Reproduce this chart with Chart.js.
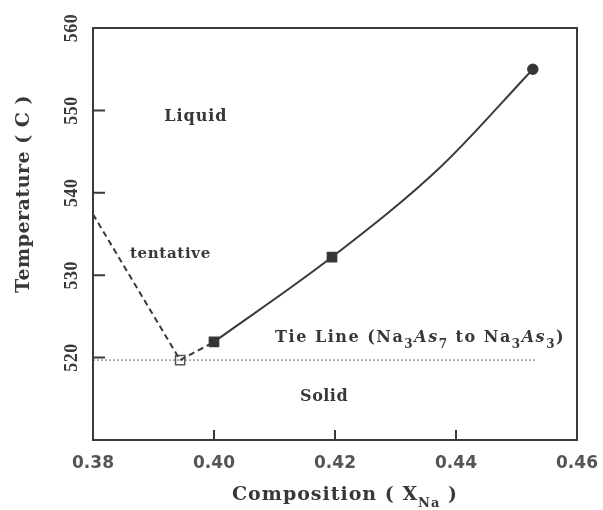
<!DOCTYPE html>
<html>
<head>
<meta charset="utf-8">
<script src="https://cdn.jsdelivr.net/npm/chart.js@4.4.1/dist/chart.umd.min.js"></script>
<style>
  html, body { margin: 0; padding: 0; background: #fff; }
  #wrap { width: 603px; height: 510px; }
</style>
</head>
<body>
<div id="wrap"><canvas id="phase" width="603" height="510"></canvas></div>
<script>
// values
const xTickLabels = ['0.38', '0.40', '0.42', '0.44', '0.46'];
const yTickLabels = [520, 530, 540, 550, 560];

// liquidus (solid curve)
const curveX = [0.400, 0.4195, 0.4374, 0.4527];
const curveY = [521.9, 532.2, 543.1, 555.0];

// tentative branch (dashed)
const tentX = [0.380, 0.3944, 0.400];
const tentY = [537.4, 519.7, 521.9];

// tie line (dotted)
const tieX = [0.380, 0.4534];
const tieY = [519.7, 519.7];

// markers
const filledX = [0.400, 0.4195];
const filledY = [521.9, 532.2];
const openX   = [0.3944];
const openY   = [519.7];
const endX    = [0.4527];
const endY    = [555.0];

const INK  = '#3a3a3a';
const TEXT = '#383838';
const SERIF = '"Liberation Serif", "Times New Roman", serif';
const WIDE  = '"DejaVu Serif", serif';

function pts(xs, ys) { return xs.map((x, i) => ({ x, y: ys[i] })); }

// draw text stretched (via letter spacing) to roughly the width seen in the scan
function spaced(ctx, parts, x, y, width, align) {
    let natural = 0, chars = 0;
    parts.forEach(p => {
        ctx.font = p.font;
        ctx.letterSpacing = '0px';
        natural += ctx.measureText(p.t).width;
        chars += p.t.length;
    });
    const ls = chars > 1 ? Math.max(0, (width - natural) / chars) : 0;
    const total = Math.max(width, natural);
    let cx = align === 'center' ? x - total / 2 : x;
    parts.forEach(p => {
        ctx.font = p.font;
        ctx.letterSpacing = ls + 'px';
        ctx.textAlign = 'left';
        ctx.fillText(p.t, cx, y + (p.dy || 0));
        cx += ctx.measureText(p.t).width;
    });
    ctx.letterSpacing = '0px';
}

const notes = [
    { x: 0.397,  y: 549.2, w: 63, parts: [{ t: 'Liquid', font: 'bold 16px ' + WIDE }] },
    { x: 0.3928, y: 532.6, w: 81, parts: [{ t: 'tentative', font: 'bold 15px ' + WIDE }] },
    { x: 0.4182, y: 515.2, w: 48, parts: [{ t: 'Solid', font: 'bold 16px ' + WIDE }] },
];

const frame = {
    id: 'frame',
    afterDraw(chart) {
        const { ctx, chartArea: a, scales: { x, y } } = chart;
        ctx.save();

        // box
        ctx.strokeStyle = INK;
        ctx.lineWidth = 2;
        ctx.strokeRect(a.left, a.top, a.right - a.left, a.bottom - a.top);

        // inward ticks
        ctx.beginPath();
        y.ticks.forEach(t => {
            if (t.value <= y.min || t.value >= y.max) return;
            const py = y.getPixelForValue(t.value);
            ctx.moveTo(a.left, py);
            ctx.lineTo(a.left + 12, py);
        });
        x.ticks.forEach(t => {
            if (t.value <= x.min + 1e-9 || t.value >= x.max - 1e-9) return;
            const px = x.getPixelForValue(t.value);
            ctx.moveTo(px, a.bottom);
            ctx.lineTo(px, a.bottom - 10);
        });
        ctx.stroke();

        ctx.fillStyle = TEXT;
        ctx.textBaseline = 'middle';

        // rotated y tick labels
        ctx.font = 'bold 18px ' + SERIF;
        yTickLabels.forEach(v => {
            ctx.save();
            ctx.translate(72, y.getPixelForValue(v));
            ctx.rotate(-Math.PI / 2);
            ctx.textAlign = 'center';
            ctx.letterSpacing = '0.5px';
            ctx.fillText(String(v), 0, 0);
            ctx.restore();
        });

        // region labels
        notes.forEach(n => {
            spaced(ctx, n.parts, x.getPixelForValue(n.x), y.getPixelForValue(n.y), n.w, 'center');
        });

        // tie line label
        ctx.textBaseline = 'alphabetic';
        const main = 'bold 16px ' + WIDE, sub = 'bold 12px ' + WIDE, ital = 'italic bold 16px ' + WIDE;
        spaced(ctx, [
            { t: 'Tie Line (Na', font: main },
            { t: '3', font: sub, dy: 6 },
            { t: 'As', font: ital },
            { t: '7', font: sub, dy: 6 },
            { t: ' to Na', font: main },
            { t: '3', font: sub, dy: 6 },
            { t: 'As', font: ital },
            { t: '3', font: sub, dy: 6 },
            { t: ')', font: main },
        ], x.getPixelForValue(0.4101), y.getPixelForValue(521.9), 290, 'left');

        // axis titles
        ctx.textBaseline = 'middle';
        ctx.save();
        ctx.translate(24, 194);
        ctx.rotate(-Math.PI / 2);
        spaced(ctx, [{ t: 'Temperature ( C )', font: 'bold 19px ' + WIDE }], 0, 0, 198, 'center');
        ctx.restore();

        ctx.textBaseline = 'alphabetic';
        spaced(ctx, [
            { t: 'Composition ( X', font: 'bold 19px ' + WIDE },
            { t: 'Na', font: 'bold 13px ' + WIDE, dy: 7 },
            { t: ' )', font: 'bold 19px ' + WIDE },
        ], 232, 500, 226, 'left');

        ctx.restore();
    }
};

function lineSet(data, opts) {
    return Object.assign({
        data,
        borderColor: INK,
        borderWidth: 2,
        pointRadius: 0,
        fill: false,
        showLine: true,
    }, opts);
}

function markSet(data, opts) {
    return Object.assign({
        data,
        showLine: false,
        pointStyle: 'rect',
        pointRadius: 6.5,
        borderWidth: 1.5,
        borderColor: INK,
        backgroundColor: '#333',
    }, opts);
}

new Chart(document.getElementById('phase'), {
    type: 'line',
    data: {
        datasets: [
            lineSet(pts(curveX, curveY), { cubicInterpolationMode: 'monotone' }),
            lineSet(pts(tentX, tentY),   { borderDash: [6, 4] }),
            lineSet(pts(tieX, tieY),     { borderDash: [2, 2], borderWidth: 1, borderColor: '#666' }),
            markSet(pts(filledX, filledY), {}),
            markSet(pts(openX, openY),   { backgroundColor: '#fff', borderColor: '#555' }),
            markSet(pts(endX, endY),     { pointStyle: 'circle', pointRadius: 5 }),
        ],
    },
    options: {
        responsive: false,
        animation: false,
        events: [],
        layout: { padding: { top: 28, right: 26, left: 0, bottom: 0 } },
        plugins: { legend: { display: false }, tooltip: { enabled: false } },
        scales: {
            x: {
                type: 'linear',
                min: 0.38,
                max: 0.46,
                grid: { display: false, drawTicks: false },
                border: { display: false },
                afterFit: s => { s.height = 70; s.paddingLeft = 0; s.paddingRight = 0; },
                ticks: {
                    stepSize: 0.02,
                    padding: 13,
                    color: '#555',
                    font: { family: '"DejaVu Sans", sans-serif', size: 17, weight: 'bold' },
                    callback: (v, i) => xTickLabels[i],
                },
            },
            y: {
                type: 'linear',
                min: 510,
                max: 560,
                grid: { display: false, drawTicks: false },
                border: { display: false },
                afterFit: s => { s.width = 93; },
                ticks: { stepSize: 10, display: false },
            },
        },
    },
    plugins: [frame],
});
</script>
</body>
</html>
